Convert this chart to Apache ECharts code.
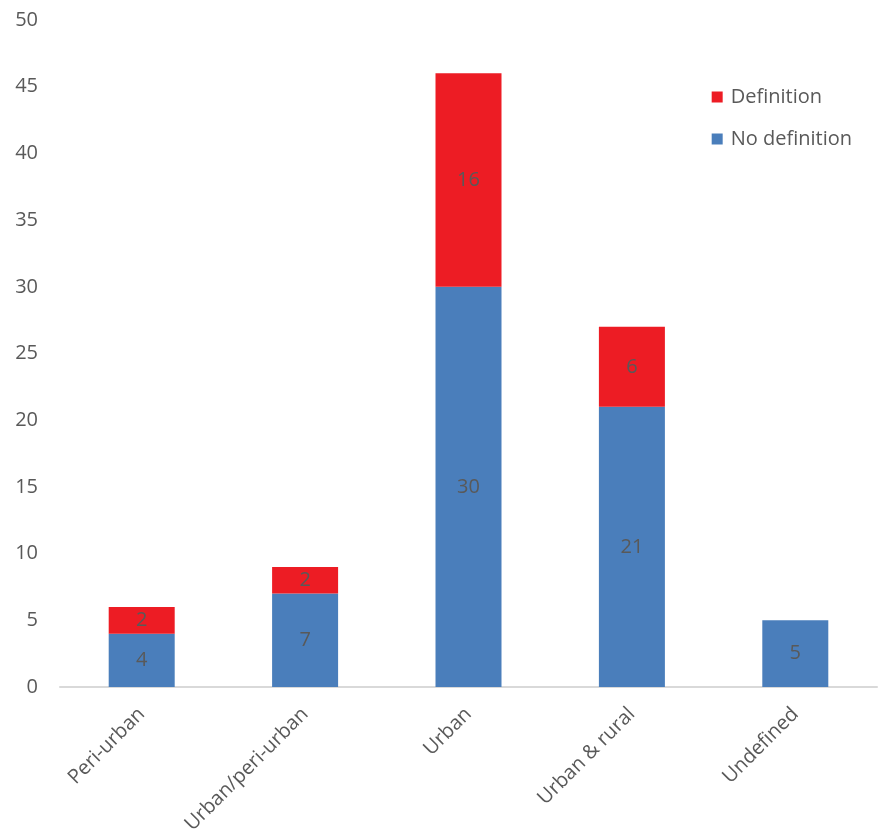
<!DOCTYPE html>
<html>
<head>
<meta charset="utf-8">
<script src="https://cdn.jsdelivr.net/npm/echarts@6/dist/echarts.min.js"></script>
<style>
  html, body { margin: 0; padding: 0; background: #fff; }
  #chart { width: 879px; height: 834px; }
</style>
</head>
<body>
<div id="chart"></div>
<script>
// Study settings and counts per definition status
const categories = ['Peri-urban', 'Urban/peri-urban', 'Urban', 'Urban & rural', 'Undefined'];
const noDefinition = [4, 7, 30, 21, 5];
const definition = [2, 2, 16, 6, null];
const yTicks = { min: 0, max: 50, interval: 5 };

const textColor = '#595959';
const fontFamily = '"Open Sans", "Noto Sans", sans-serif';

const chart = echarts.init(document.getElementById('chart'));
chart.setOption({
  animation: false,
  backgroundColor: '#ffffff',
  textStyle: { fontFamily: fontFamily },
  grid: { left: 60, right: 2, top: 20, bottom: 147, containLabel: false, outerBoundsMode: 'none' },
  legend: {
    orient: 'vertical',
    right: 22,
    top: 82,
    itemWidth: 11,
    itemHeight: 11,
    itemGap: 22,
    icon: 'rect',
    data: ['Definition', 'No definition'],
    textStyle: { color: textColor, fontSize: 20, fontFamily: fontFamily, padding: [0, 0, 0, 3] }
  },
  xAxis: {
    type: 'category',
    data: categories,
    axisLine: { lineStyle: { color: '#d9d9d9', width: 2 } },
    axisTick: { show: false },
    axisLabel: {
      rotate: 45,
      interval: 0,
      margin: 24,
      color: textColor,
      fontSize: 20,
      fontFamily: fontFamily
    }
  },
  yAxis: {
    type: 'value',
    min: yTicks.min,
    max: yTicks.max,
    interval: yTicks.interval,
    axisLine: { show: false },
    axisTick: { show: false },
    splitLine: { show: false },
    axisLabel: { color: textColor, fontSize: 20, margin: 22, fontFamily: fontFamily }
  },
  series: [
    {
      name: 'No definition',
      type: 'bar',
      stack: 'total',
      barWidth: 66,
      data: noDefinition,
      itemStyle: { color: '#4a7ebb' },
      label: { show: true, position: 'inside', color: textColor, fontSize: 20, fontFamily: fontFamily }
    },
    {
      name: 'Definition',
      type: 'bar',
      stack: 'total',
      barWidth: 66,
      data: definition,
      itemStyle: { color: '#ed1c24' },
      label: { show: true, position: 'inside', color: textColor, fontSize: 20, fontFamily: fontFamily }
    }
  ]
});
</script>
</body>
</html>
